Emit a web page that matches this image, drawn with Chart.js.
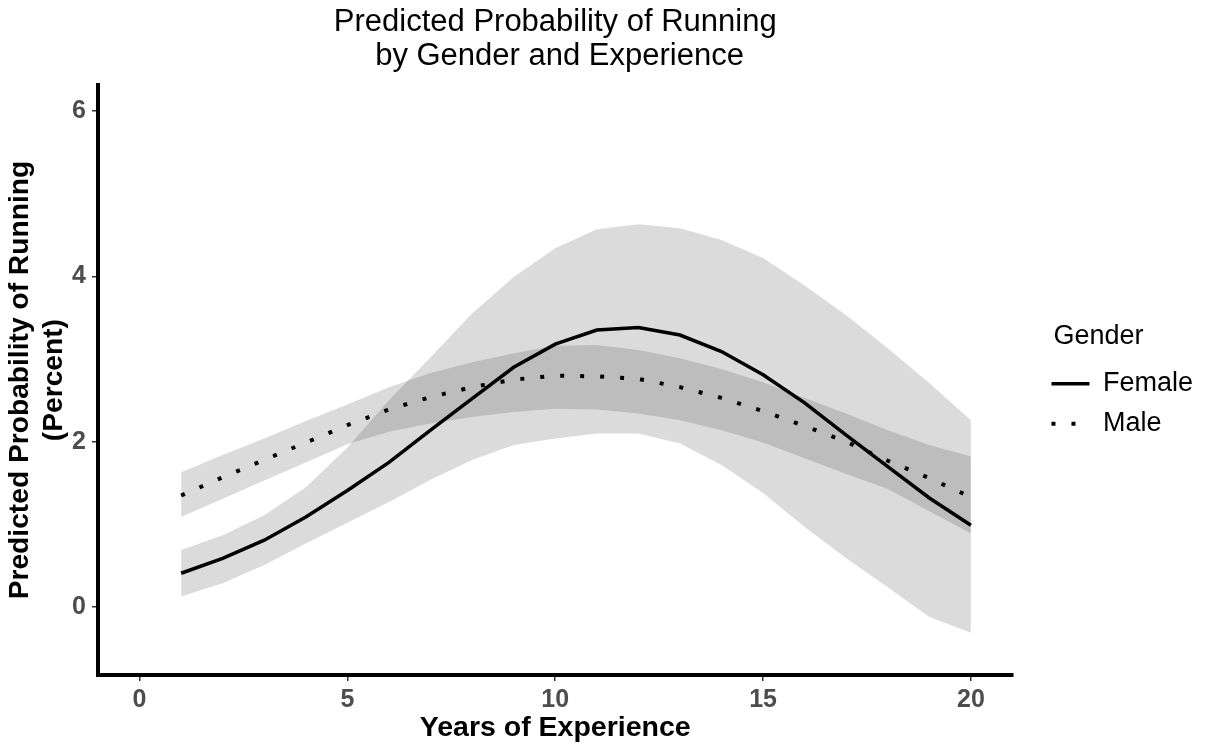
<!DOCTYPE html>
<html lang="en">
<head>
<meta charset="UTF-8">
<title>Predicted Probability of Running</title>
<script src="https://cdn.jsdelivr.net/npm/chart.js"></script>
<style>
  html, body { margin: 0; padding: 0; background: #fff; }
  #wrap { width: 1206px; height: 749px; }
</style>
</head>
<body>
<div id="wrap"><canvas id="chart"></canvas></div>
<script>
// values (percent)
const years = [1, 2, 3, 4, 5, 6, 7, 8, 9, 10, 11, 12, 13, 14, 15, 16, 17, 18, 19, 20];

const femaleFit   = [0.41, 0.59, 0.81, 1.09, 1.41, 1.75, 2.14, 2.52, 2.90, 3.18, 3.35, 3.38, 3.29, 3.09, 2.81, 2.47, 2.08, 1.70, 1.32, 0.99];
const femaleUpper = [0.69, 0.87, 1.11, 1.45, 1.93, 2.50, 3.02, 3.55, 3.99, 4.34, 4.57, 4.63, 4.58, 4.44, 4.22, 3.89, 3.53, 3.13, 2.71, 2.26];
const femaleLower = [0.13, 0.29, 0.51, 0.77, 1.02, 1.27, 1.54, 1.78, 1.96, 2.04, 2.10, 2.10, 1.98, 1.72, 1.38, 0.97, 0.59, 0.24, -0.12, -0.31];

const maleFit   = [1.35, 1.57, 1.78, 1.99, 2.20, 2.39, 2.54, 2.66, 2.75, 2.80, 2.79, 2.76, 2.66, 2.53, 2.37, 2.19, 2.00, 1.77, 1.56, 1.33];
const maleUpper = [1.63, 1.84, 2.04, 2.25, 2.45, 2.66, 2.83, 2.96, 3.07, 3.16, 3.17, 3.11, 3.01, 2.88, 2.72, 2.53, 2.34, 2.14, 1.96, 1.82];
const maleLower = [1.09, 1.31, 1.53, 1.75, 1.97, 2.12, 2.22, 2.30, 2.36, 2.40, 2.39, 2.34, 2.26, 2.14, 1.99, 1.80, 1.61, 1.43, 1.16, 0.89];

const xTicks = [0, 5, 10, 15, 20];
const yTicks = [0, 2, 4, 6];

const pts = arr => years.map((x, i) => ({ x: x, y: arr[i] }));
const ribbon = 'rgba(0, 0, 0, 0.14)';

Chart.defaults.font.family = '"Liberation Sans", Arial, sans-serif';

// move the legend right/down a little, ggplot leaves a gap after the panel
const legendShift = {
    id: 'legendShift',
    afterLayout(chart) {
        const lg = chart.legend;
        lg.left += 26;
        lg.right += 26;
        lg.top += 12;
        lg.bottom += 12;
    }
};

new Chart(document.getElementById('chart'), {
    type: 'line',
    data: {
        datasets: [
            { label: 'fu', data: pts(femaleUpper), fill: 1, backgroundColor: ribbon, borderWidth: 0, pointRadius: 0, order: 2 },
            { label: 'fl', data: pts(femaleLower), fill: false, borderWidth: 0, pointRadius: 0, order: 2 },
            { label: 'mu', data: pts(maleUpper), fill: 3, backgroundColor: ribbon, borderWidth: 0, pointRadius: 0, order: 2 },
            { label: 'ml', data: pts(maleLower), fill: false, borderWidth: 0, pointRadius: 0, order: 2 },
            { label: 'Female', data: pts(femaleFit), borderColor: '#000', backgroundColor: '#000',
              borderWidth: 3.5, pointRadius: 0, tension: 0, fill: false, order: 1 },
            { label: 'Male', data: pts(maleFit), borderColor: '#000', backgroundColor: '#000',
              borderWidth: 4, borderDash: [4, 16], pointRadius: 0, tension: 0, fill: false, order: 0 }
        ]
    },
    options: {
        responsive: true,
        maintainAspectRatio: false,
        animation: false,
        layout: { padding: { left: 0, right: 29, top: 0, bottom: 0 } },
        plugins: {
            title: {
                display: true,
                text: ['Predicted Probability of Running', ' by Gender and Experience'],
                color: '#000',
                font: { size: 31, weight: 'normal', lineHeight: 1.1 },
                fullSize: false,
                padding: { top: 5, bottom: 12 }
            },
            legend: {
                position: 'right',
                align: 'center',
                title: {
                    display: true,
                    text: '  Gender',
                    color: '#000',
                    position: 'start',
                    font: { size: 27 },
                    padding: { top: 0, bottom: 2 }
                },
                labels: {
                    color: '#000',
                    font: { size: 27 },
                    usePointStyle: true,
                    pointStyle: 'line',
                    pointStyleWidth: 38,
                    boxWidth: 38,
                    padding: 13,
                    sort: (a, b) => a.datasetIndex - b.datasetIndex,
                    generateLabels: chart => Chart.defaults.plugins.legend.labels.generateLabels(chart)
                        .filter(item => item.text === 'Female' || item.text === 'Male')
                        .map(item => {
                            const ds = chart.data.datasets[item.datasetIndex];
                            item.lineDash = ds.borderDash || [];
                            item.lineWidth = ds.borderWidth;
                            item.strokeStyle = '#000';
                            item.fillStyle = '#000';
                            item.lineCap = 'butt';
                            return item;
                        })
                }
            },
            tooltip: { enabled: false }
        },
        scales: {
            x: {
                type: 'linear',
                min: -1,
                max: 21,
                afterBuildTicks: s => { s.ticks = xTicks.map(v => ({ value: v })); },
                afterFit: s => { s.height = 74; },
                ticks: { color: '#4d4d4d', font: { size: 25, weight: 'bold' }, padding: 4 },
                grid: { drawOnChartArea: false, drawTicks: true, tickLength: 6, color: '#333', lineWidth: 1.5 },
                border: { display: true, color: '#000', width: 4 },
                title: { display: true, text: 'Years of Experience', color: '#000',
                         font: { size: 28.5, weight: 'bold' }, padding: { top: 0, bottom: 4 } }
            },
            y: {
                type: 'linear',
                min: -0.82,
                max: 6.31,
                afterBuildTicks: s => { s.ticks = yTicks.map(v => ({ value: v })); },
                afterFit: s => { s.width = 98; },
                ticks: { color: '#4d4d4d', font: { size: 25, weight: 'bold' }, padding: 6 },
                grid: { drawOnChartArea: false, drawTicks: true, tickLength: 6, color: '#333', lineWidth: 1.5 },
                border: { display: true, color: '#000', width: 4 },
                title: { display: true, text: ['Predicted Probability of Running', '(Percent)'], color: '#000',
                         font: { size: 28.2, weight: 'bold' }, padding: { top: 3, bottom: 0 } }
            }
        }
    },
    plugins: [legendShift]
});
</script>
</body>
</html>
